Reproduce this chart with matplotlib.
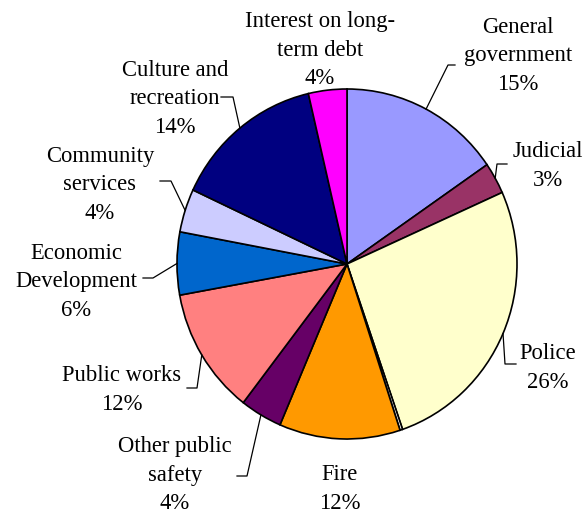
import numpy as np
import matplotlib
matplotlib.use("Agg")
import matplotlib.pyplot as plt
from matplotlib.lines import Line2D

# Expenditure shares by function (percent of total), clockwise from the top
categories = ["General\ngovernment", "Judicial", "Police", "", "Fire",
              "Other public\nsafety", "Public works", "Economic\nDevelopment",
              "Community\nservices", "Culture and\nrecreation",
              "Interest on long-\nterm debt"]
shares = [15.4, 2.9, 26.4, 0.25, 11.5, 4.0, 11.7, 5.8, 4.0, 14.4, 3.65]
pct_labels = ["15%", "3%", "26%", "", "12%", "4%", "12%", "6%", "4%", "14%", "4%"]
colors = ["#9999FF", "#993366", "#FFFFCC", "#FFFFFF", "#FF9900", "#660066",
          "#FF8080", "#0066CC", "#CCCCFF", "#000080", "#FF00FF"]

W, H = 585, 516
fig = plt.figure(figsize=(W / 100, H / 100), dpi=100)

cx, cy, rx, ry = 347, 264, 170, 175
ax = fig.add_axes([(cx - rx) / W, (H - cy - ry) / H, 2 * rx / W, 2 * ry / H])
wedges, _ = ax.pie(shares, colors=colors, startangle=90, counterclock=False,
                   wedgeprops=dict(edgecolor="black", linewidth=1.2))
ax.set_aspect("auto")
ax.set_xlim(-1, 1)
ax.set_ylim(-1, 1)

# Label layout in image pixels: text centre, then leader elbow and end
layout = {
    0: ((518, 56), [(448, 65), (455, 65)]),
    1: ((548, 166), [(497, 164), (507, 164)]),
    2: ((548, 368), [(505, 364), (516, 364)]),
    4: ((340, 489), None),
    5: ((175, 475), [(247, 476), (237, 476)]),
    6: ((122, 390), [(197, 388), (187, 388)]),
    7: ((76, 282), [(153, 278), (143, 278)]),
    8: ((100, 185), [(171, 181), (160, 181)]),
    9: ((175, 99), [(233, 97), (221, 97)]),
    10: ((320, 50), None),
}

def to_fig(p):
    return (p[0] / W, (H - p[1]) / H)

for i, (pos, leader) in layout.items():
    text = categories[i] + "\n" + pct_labels[i]
    fx, fy = to_fig(pos)
    fig.text(fx, fy, text, ha="center", va="center", family="Liberation Serif",
             fontsize=16.3, linespacing=1.45, color="black")
    if leader:
        w = wedges[i]
        mid = np.deg2rad((w.theta1 + w.theta2) / 2)
        rim = ax.transData.transform((np.cos(mid), np.sin(mid)))
        pts = [fig.transFigure.inverted().transform(rim)] + [to_fig(p) for p in leader]
        xs, ys = zip(*pts)
        fig.add_artist(Line2D(xs, ys, transform=fig.transFigure, color="black",
                              linewidth=0.9))

fig.savefig("out.png", dpi=100)
